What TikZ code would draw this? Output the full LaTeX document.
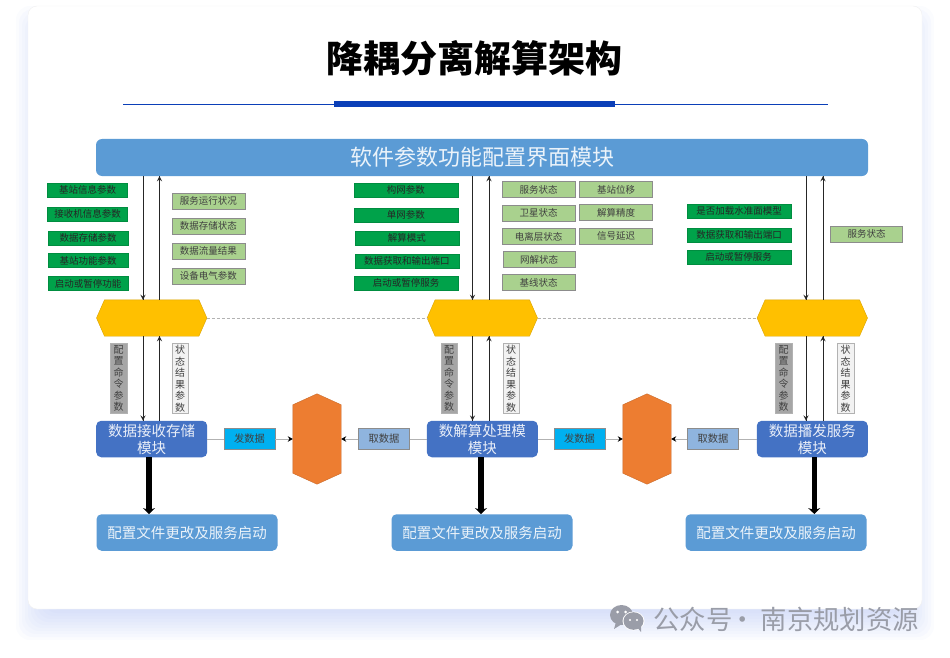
\documentclass[tikz,border=0pt]{standalone}
\usepackage{fontspec}
\setmainfont{Noto Sans CJK SC}
\usepackage{tikz}
\usetikzlibrary{positioning,calc,arrows.meta,decorations.markings}
\definecolor{barblue}{HTML}{5B9BD5}
\definecolor{modblue}{HTML}{4472C4}
\definecolor{paramgreen}{HTML}{00B050}
\definecolor{statgreen}{HTML}{A9D18E}
\definecolor{hexyellow}{HTML}{FFC000}
\definecolor{hexorange}{HTML}{ED7D31}
\definecolor{sendblue}{HTML}{00B0F0}
\definecolor{takeblue}{HTML}{8FB4DE}
\definecolor{ruleblue}{HTML}{0B3FB8}
\definecolor{markgray}{HTML}{9A9DA8}
\definecolor{shadowblue}{HTML}{8FA6EE}
\begin{document}
\begin{tikzpicture}[x=1pt,y=-1pt,
  param/.style={draw=paramgreen!80!black,fill=paramgreen!92!black,minimum height=14pt,inner sep=0pt,
    font=\fontsize{9.5}{9.5}\selectfont,text=black!85},
  stat/.style={draw=black!45,fill=statgreen,minimum width=73pt,minimum height=16pt,inner sep=0pt,
    font=\fontsize{9.5}{9.5}\selectfont,text=black!75},
  syshex/.style={minimum width=110pt,minimum height=36pt,inner sep=0pt},
  buffhex/.style={minimum width=48pt,minimum height=90pt,inner sep=0pt},
  mod/.style={fill=modblue,rounded corners=5pt,minimum width=111pt,minimum height=36.5pt,inner sep=0pt,align=center,
    text=white!88!modblue,font=\fontsize{14.5}{17}\selectfont},
  cfg/.style={fill=barblue,rounded corners=5pt,minimum width=181pt,minimum height=36.5pt,inner sep=0pt,
    text=white!88!barblue,font=\fontsize{14.5}{14.5}\selectfont},
  cmd/.style={draw=black!30,fill=black!35,minimum width=16.5pt,minimum height=70pt,inner sep=0pt,align=center,
    font=\fontsize{10}{11.5}\selectfont,text=black!75},
  res/.style={cmd,draw=black!30,fill=black!5},
  flow/.style={minimum width=51pt,minimum height=21pt,inner sep=0pt,font=\fontsize{10.3}{10.3}\selectfont,text=black!75},
  arr/.style={line width=1pt,black!85,
    decoration={markings,mark=at position 1 with {\arrow[scale=1.1]{stealth}}},
    postaction={decorate}},
  feed/.style={line width=1pt,black!30,-{Stealth[color=black,length=5pt,width=5.5pt]}},
  fatarr/.style={line width=5.5pt,-{Stealth[length=6pt,width=12pt]}},
  wire/.style={black!30,line width=1pt}]
\useasboundingbox (0,0) rectangle (950,658);
% soft shadow under the card
\foreach \r in {16,13,...,-17}{
  \fill[shadowblue,opacity=0.04,rounded corners=14pt] (32-\r,22-\r) rectangle (918+\r,624+\r);
}
\node[draw=black!6,fill=white,rounded corners=9pt,minimum width=894pt,minimum height=603pt,inner sep=0pt] (card) at (475,307.5) {};
\node[font=\fontsize{37}{37}\bfseries\selectfont] (title) at (474.5,58) {降耦分离解算架构};
\node[fill=ruleblue,minimum width=281pt,minimum height=6pt,inner sep=0pt] (rulemid) at (474.5,104.5) {};
\coordinate (ruleL) at (123,104.5);
\coordinate (ruleR) at (828,104.5);
\draw[ruleblue,line width=1.2pt] (ruleL) -- (rulemid.west) (rulemid.east) -- (ruleR);

\node[fill=barblue,rounded corners=6pt,minimum width=772pt,minimum height=37pt,inner sep=0pt,
  text=white!88!barblue,font=\fontsize{22}{22}\selectfont] (bar) at (482,157.5) {软件参数功能配置界面模块};

\node[syshex] (hexa) at (151.7,318) {};
\node[syshex] (hexb) at (482.3,318) {};
\node[syshex] (hexc) at (812.3,318) {};
\foreach \hx in {hexa,hexb,hexc}{
  \filldraw[fill=hexyellow,draw=hexyellow!85!black] (\hx.west) -- ($(\hx.north west)+(8,0)$) -- ($(\hx.north east)+(-8,0)$)
    -- (\hx.east) -- ($(\hx.south east)+(-8,0)$) -- ($(\hx.south west)+(8,0)$) -- cycle;
}
\draw[black!30,densely dashed] (hexa.east) -- (hexb.west);
\draw[black!30,densely dashed] (hexb.east) -- (hexc.west);

\node[mod] (moda) at (151.7,439) {数据接收存储\\模块};
\node[mod] (modb) at (482.3,439) {数解算处理模\\模块};
\node[mod] (modc) at (812.3,439) {数据播发服务\\模块};
\node[cfg] (cfga) at (187,532.5) {配置文件更改及服务启动};
\node[cfg] (cfgb) at (482,532.5) {配置文件更改及服务启动};
\node[cfg] (cfgc) at (776,532.5) {配置文件更改及服务启动};

\node[buffhex] (bufa) at (317,439) {};
\node[buffhex] (bufb) at (647,439) {};
\foreach \bf in {bufa,bufb}{
  \filldraw[fill=hexorange,draw=hexorange!85!black] (\bf.north) -- ($(\bf.north east)+(0,11)$) -- ($(\bf.south east)+(0,-11)$)
    -- (\bf.south) -- ($(\bf.south west)+(0,-11)$) -- ($(\bf.north west)+(0,11)$) -- cycle;
}
\node[flow,draw=black!45,fill=sendblue] (senda) at (249.5,439) {发数据};
\node[flow,draw=black!45,fill=takeblue] (takea) at (384,439) {取数据};
\node[flow,draw=black!45,fill=sendblue] (sendb) at (579.5,439) {发数据};
\node[flow,draw=black!45,fill=takeblue] (takeb) at (713,439) {取数据};

% left group
\node[param,minimum width=80pt] (pa1) at (87.5,190.3) {基站信息参数};
\node[param,minimum width=80pt] (pa2) at (87.5,214.2) {接收机信息参数};
\node[param,minimum width=80pt] (pa3) at (88,238) {数据存储参数};
\node[param,minimum width=80pt] (pa4) at (88,260.5) {基站功能参数};
\node[param,minimum width=80pt] (pa5) at (88,283.5) {启动或暂停功能};
\node[stat] (sa1) at (208.3,200.7) {服务运行状况};
\node[stat,below=8.7pt of sa1] (sa2) {数据存储状态};
\node[stat,below=8.7pt of sa2] (sa3) {数据流量结果};
\node[stat,below=8.7pt of sa3] (sa4) {设备电气参数};

% middle group
\node[param,minimum width=104pt] (pb1) at (405.8,190.3) {构网参数};
\node[param,minimum width=104pt] (pb2) at (405.8,215) {单网参数};
\node[param,minimum width=104pt] (pb3) at (406.8,238) {解算模式};
\node[param,minimum width=104pt] (pb4) at (406.8,261) {数据获取和输出端口};
\node[param,minimum width=104pt] (pb5) at (406,283) {启动或暂停服务};
\node[stat] (sb1) at (538.5,189.5) {服务状态};
\node[stat] (sb2) at (538.5,213) {卫星状态};
\node[stat] (sb3) at (538.5,236.5) {电离层状态};
\node[stat,minimum width=71.5pt] (sb4) at (539,259.5) {网解状态};
\node[stat] (sb5) at (538.5,282.5) {基线状态};
\node[stat] (sc1) at (616,189.5) {基站位移};
\node[stat] (sc2) at (616,212.5) {解算精度};
\node[stat] (sc3) at (616,236) {信号延迟};

% right group
\node[param,minimum width=104pt] (pc1) at (739,211) {是否加载水准面模型};
\node[param,minimum width=104pt] (pc2) at (739,235) {数据获取和输出端口};
\node[param,minimum width=104pt] (pc3) at (738.7,257) {启动或暂停服务};
\node[stat,minimum width=72pt] (sd1) at (866.5,234) {服务状态};

\node[cmd] (cmda) at (118.5,378.5) {配\\置\\命\\令\\参\\数};
\node[cmd] (cmdb) at (449,378.5) {配\\置\\命\\令\\参\\数};
\node[cmd] (cmdc) at (783.5,378.5) {配\\置\\命\\令\\参\\数};
\node[res] (resa) at (180,378.5) {状\\态\\结\\果\\参\\数};
\node[res] (resb) at (511,378.5) {状\\态\\结\\果\\参\\数};
\node[res] (resc) at (845.7,378.5) {状\\态\\结\\果\\参\\数};

\foreach \hx/\mx/\xa/\xb in {hexa/moda/143/159.5,hexb/modb/472.5/489,hexc/modc/806/823}{
  \draw[arr] (\xa,0 |- bar.south) -- (\xa,0 |- \hx.north);
  \draw[arr] (\xb,0 |- \hx.north) -- (\xb,0 |- bar.south);
  \draw[arr] (\xa,0 |- \hx.south) -- (\xa,0 |- \mx.north);
  \draw[arr] (\xb,0 |- \mx.north) -- (\xb,0 |- \hx.south);
}
\draw[fatarr] (149,0 |- moda.south) -- (149,0 |- cfga.north);
\draw[fatarr] (481,0 |- modb.south) -- (481,0 |- cfgb.north);
\draw[fatarr] (814.3,0 |- modc.south) -- (814.3,0 |- cfgc.north);

\draw[wire] (moda.east) -- (senda.west);
\draw[wire] (takea.east) -- (modb.west);
\draw[wire] (modb.east) -- (sendb.west);
\draw[wire] (takeb.east) -- (modc.west);
\draw[feed] (senda.east) -- (bufa.west);
\draw[feed] (takea.west) -- (bufa.east);
\draw[feed] (sendb.east) -- (bufb.west);
\draw[feed] (takeb.west) -- (bufb.east);

% source mark
\fill[markgray] (621.5,615) ellipse (11.5pt and 10pt);
\fill[markgray] (616,622) -- (614,629) -- (622,624) -- cycle;
\fill[white] (633.5,621) ellipse (11pt and 9.5pt);
\fill[markgray] (633.5,621) ellipse (10pt and 8.8pt);
\fill[markgray] (637,627) -- (641,632) -- (641,626) -- cycle;
\fill[white] (617.5,612) circle (1.5pt) (625.5,612) circle (1.5pt) (630,620) circle (1.2pt) (637,620) circle (1.2pt);
\node[text=markgray,font=\fontsize{26.4}{26.4}\selectfont,anchor=west,inner sep=0pt] (source) at (653,619.5) {公众号\kern-3pt·\kern5pt 南京规划资源};
\end{tikzpicture}
\end{document}
